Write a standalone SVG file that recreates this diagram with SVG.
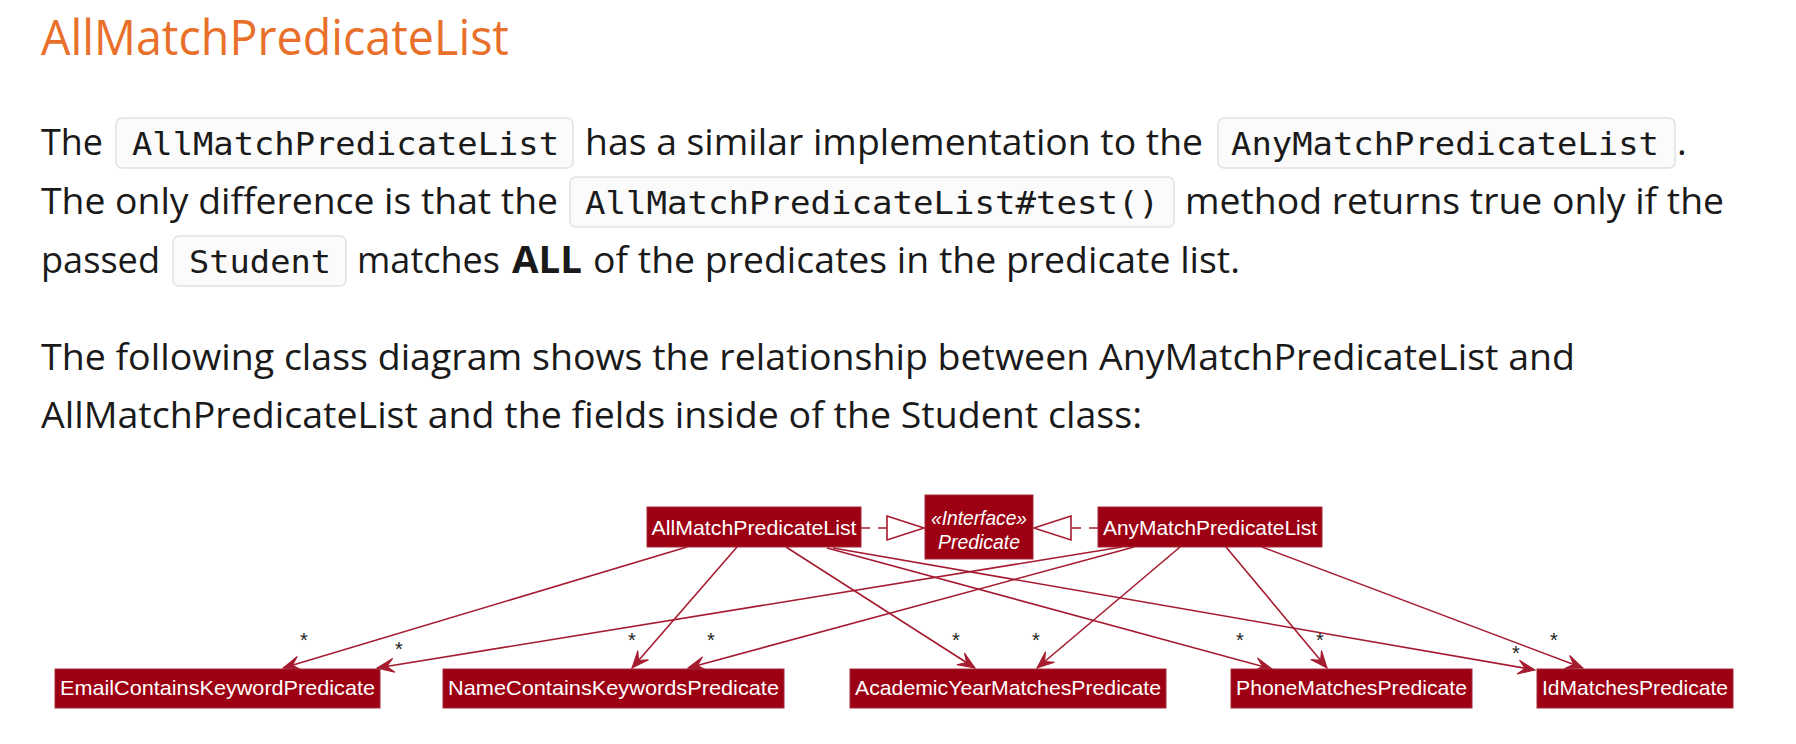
<svg xmlns="http://www.w3.org/2000/svg" width="1796" height="744" viewBox="0 0 1796 744">
<style>
.t{font-family:"Open Sans","Noto Sans",sans-serif;font-size:37px;fill:#1a1a1a}
.b{font-weight:700}
.c{font-family:"DejaVu Sans Mono","Liberation Mono",monospace;font-size:32px;fill:#1a1a1a}
.cb{fill:#fbfbfb;stroke:#e2e2e2;stroke-width:1.5}
.h{font-family:"Open Sans","Noto Sans",sans-serif;font-size:49px;fill:#E8702A}
.n{fill:#9D0012;stroke:#A3283A;stroke-width:1}
.nt{font-family:"Liberation Sans",Arial,sans-serif;font-size:21px;fill:#ffffff;text-anchor:middle}
.it{font-style:italic}
.e{fill:none;stroke:#A51B30;stroke-width:1.6}
.d{fill:none;stroke:#A51B30;stroke-width:1.6;stroke-dasharray:9,8}
.tri{fill:#ffffff;stroke:#A51B30;stroke-width:1.6}
.m{font-family:"Liberation Sans",Arial,sans-serif;font-size:20px;fill:#222222;text-anchor:middle}
</style>
<defs>
<marker id="ah" markerWidth="22" markerHeight="16" refX="18" refY="8" orient="auto" markerUnits="userSpaceOnUse" viewBox="0 0 22 16">
<path d="M18,8 L1,1 L8,8 L1,15 Z" fill="#A51B30" stroke="#A51B30" stroke-width="1"/>
</marker>
</defs>
<rect width="1796" height="744" fill="#ffffff"/>

<g id="heading">
<text class="h" x="41" y="55" textLength="468" lengthAdjust="spacingAndGlyphs">AllMatchPredicateList</text>
</g>

<g id="paragraph1">
<text class="t" x="41" y="155" textLength="62" lengthAdjust="spacingAndGlyphs">The</text>
<rect class="cb" x="116" y="118" width="457" height="50" rx="6"/>
<text class="c" x="132" y="155" textLength="427" lengthAdjust="spacingAndGlyphs">AllMatchPredicateList</text>
<text class="t" x="585" y="155" textLength="618" lengthAdjust="spacingAndGlyphs">has a similar implementation to the</text>
<rect class="cb" x="1218" y="118" width="457" height="50" rx="6"/>
<text class="c" x="1231" y="155" textLength="428" lengthAdjust="spacingAndGlyphs">AnyMatchPredicateList</text>
<text class="t" x="1677" y="155">.</text>

<text class="t" x="41" y="214" textLength="517" lengthAdjust="spacingAndGlyphs">The only difference is that the</text>
<rect class="cb" x="570" y="177" width="604" height="50" rx="6"/>
<text class="c" x="585" y="214" textLength="574" lengthAdjust="spacingAndGlyphs">AllMatchPredicateList#test()</text>
<text class="t" x="1185" y="214" textLength="539" lengthAdjust="spacingAndGlyphs">method returns true only if the</text>

<text class="t" x="41" y="273" textLength="119" lengthAdjust="spacingAndGlyphs">passed</text>
<rect class="cb" x="173" y="236" width="173" height="50" rx="6"/>
<text class="c" x="189" y="273" textLength="142" lengthAdjust="spacingAndGlyphs">Student</text>
<text class="t" x="357" y="273" textLength="143" lengthAdjust="spacingAndGlyphs">matches</text>
<text class="t b" x="512" y="273" textLength="70" lengthAdjust="spacingAndGlyphs">ALL</text>
<text class="t" x="593" y="273" textLength="647" lengthAdjust="spacingAndGlyphs">of the predicates in the predicate list.</text>
</g>

<g id="paragraph2">
<text class="t" x="41" y="370" textLength="1534" lengthAdjust="spacingAndGlyphs">The following class diagram shows the relationship between AnyMatchPredicateList and</text>
<text class="t" x="41" y="428" textLength="1101" lengthAdjust="spacingAndGlyphs">AllMatchPredicateList and the fields inside of the Student class:</text>
</g>

<g id="connectors">
<path class="d" d="M861,528 L887,528"/>
<polygon class="tri" points="887,516 924,528 887,540"/>
<path class="d" d="M1098,528 L1071,528"/>
<polygon class="tri" points="1071,516 1034,528 1071,540"/>

<path class="e" d="M687,547 L283,668" marker-end="url(#ah)"/>
<path class="e" d="M737,547 L632,668" marker-end="url(#ah)"/>
<path class="e" d="M786,547 L975,668" marker-end="url(#ah)"/>
<path class="e" d="M827,548 L1272,669" marker-end="url(#ah)"/>
<path class="e" d="M833,548 L1535,670" marker-end="url(#ah)"/>

<path class="e" d="M1122,547 L377,668" marker-end="url(#ah)"/>
<path class="e" d="M1134,547 L688,668" marker-end="url(#ah)"/>
<path class="e" d="M1180,547 L1037,668" marker-end="url(#ah)"/>
<path class="e" d="M1226,547 L1327,668" marker-end="url(#ah)"/>
<path class="e" d="M1262,547 L1583,668" marker-end="url(#ah)"/>

<text class="m" x="304" y="647">*</text>
<text class="m" x="399" y="656">*</text>
<text class="m" x="632" y="647">*</text>
<text class="m" x="711" y="647">*</text>
<text class="m" x="956" y="647">*</text>
<text class="m" x="1036" y="647">*</text>
<text class="m" x="1240" y="647">*</text>
<text class="m" x="1320" y="647">*</text>
<text class="m" x="1516" y="660">*</text>
<text class="m" x="1554" y="647">*</text>
</g>

<g id="AllMatchPredicateList">
<rect class="n" x="647" y="507" width="214" height="40"/>
<text class="nt" x="754" y="535" textLength="205" lengthAdjust="spacingAndGlyphs">AllMatchPredicateList</text>
</g>
<g id="Predicate">
<rect class="n" x="925" y="495" width="108" height="64"/>
<text class="nt it" x="979" y="525" textLength="96" lengthAdjust="spacingAndGlyphs">«Interface»</text>
<text class="nt it" x="979" y="549" textLength="82" lengthAdjust="spacingAndGlyphs">Predicate</text>
</g>
<g id="AnyMatchPredicateList">
<rect class="n" x="1098" y="507" width="224" height="40"/>
<text class="nt" x="1210" y="535" textLength="214" lengthAdjust="spacingAndGlyphs">AnyMatchPredicateList</text>
</g>
<g id="EmailContainsKeywordPredicate">
<rect class="n" x="55" y="669" width="325" height="39"/>
<text class="nt" x="217.5" y="695" textLength="315" lengthAdjust="spacingAndGlyphs">EmailContainsKeywordPredicate</text>
</g>
<g id="NameContainsKeywordsPredicate">
<rect class="n" x="443" y="669" width="341" height="39"/>
<text class="nt" x="613.5" y="695" textLength="331" lengthAdjust="spacingAndGlyphs">NameContainsKeywordsPredicate</text>
</g>
<g id="AcademicYearMatchesPredicate">
<rect class="n" x="850" y="669" width="316" height="39"/>
<text class="nt" x="1008" y="695" textLength="306" lengthAdjust="spacingAndGlyphs">AcademicYearMatchesPredicate</text>
</g>
<g id="PhoneMatchesPredicate">
<rect class="n" x="1231" y="669" width="241" height="39"/>
<text class="nt" x="1351.5" y="695" textLength="231" lengthAdjust="spacingAndGlyphs">PhoneMatchesPredicate</text>
</g>
<g id="IdMatchesPredicate">
<rect class="n" x="1537" y="669" width="196" height="39"/>
<text class="nt" x="1635" y="695" textLength="186" lengthAdjust="spacingAndGlyphs">IdMatchesPredicate</text>
</g>
</svg>
